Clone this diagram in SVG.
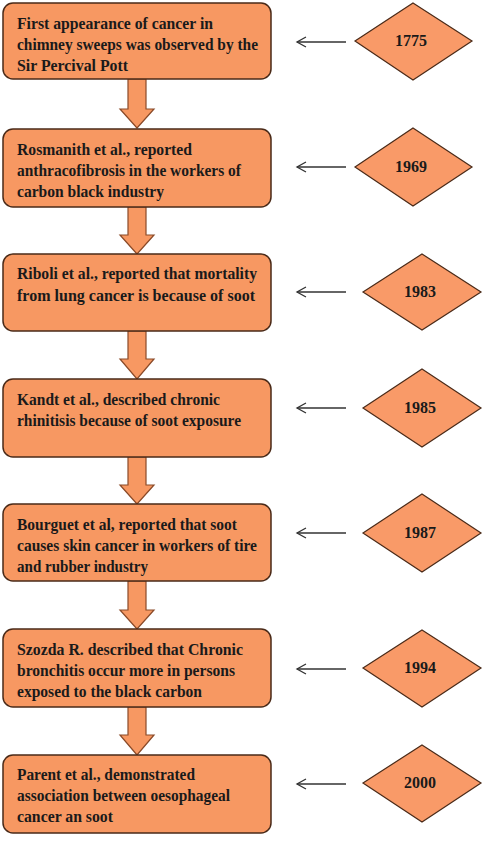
<svg xmlns="http://www.w3.org/2000/svg" width="491" height="844" viewBox="0 0 491 844">
<defs>
<style>
.box{fill:#F79862;stroke:#4a2a18;stroke-width:1.5}
.dia{fill:#F99A68;stroke:#4a2a18;stroke-width:1.2}
.blk{fill:#F79862;stroke:#8a4a28;stroke-width:1.2}
.ln{fill:none;stroke:#333;stroke-width:1.3}
.t{font-family:'Liberation Serif','DejaVu Serif',serif;font-weight:bold;font-size:16px;fill:#1a1a1a}
.y{font-family:'Liberation Serif','DejaVu Serif',serif;font-weight:bold;font-size:16px;fill:#1a1a1a;text-anchor:middle}
</style>
<marker id="open" markerWidth="12" markerHeight="12" refX="10" refY="6" orient="auto" markerUnits="userSpaceOnUse">
<path d="M1,1 L10,6 L1,11" fill="none" stroke="#333" stroke-width="1.3"/>
</marker>
</defs>
<g id="connectors">
<polygon class="blk" points="128,79 146,79 146,109 154,109 137,128 120,109 128,109"/>
<polygon class="blk" points="128,207 146,207 146,235 154,235 137,254 120,235 128,235"/>
<polygon class="blk" points="128,331 146,331 146,359 154,359 137,379 120,359 128,359"/>
<polygon class="blk" points="128,457 146,457 146,485 154,485 137,504 120,485 128,485"/>
<polygon class="blk" points="128,581 146,581 146,610 154,610 137,629 120,610 128,610"/>
<polygon class="blk" points="128,707 146,707 146,735 154,735 137,755 120,735 128,735"/>
<path class="ln" d="M346,42 L297,42" marker-end="url(#open)"/>
<path class="ln" d="M346,167 L297,167" marker-end="url(#open)"/>
<path class="ln" d="M346,292 L297,292" marker-end="url(#open)"/>
<path class="ln" d="M346,408 L297,408" marker-end="url(#open)"/>
<path class="ln" d="M346,533 L297,533" marker-end="url(#open)"/>
<path class="ln" d="M346,669 L297,669" marker-end="url(#open)"/>
<path class="ln" d="M346,784 L297,784" marker-end="url(#open)"/>
</g>
<g id="box1">
<rect class="box" x="3" y="3" width="268" height="76" rx="10"/>
<text class="t" x="17" y="29" textLength="196" lengthAdjust="spacingAndGlyphs">First appearance of cancer  in</text>
<text class="t" x="17" y="50" textLength="241" lengthAdjust="spacingAndGlyphs">chimney sweeps was observed by the</text>
<text class="t" x="17" y="71" textLength="111" lengthAdjust="spacingAndGlyphs">Sir Percival Pott</text>
</g>
<g id="box2">
<rect class="box" x="3" y="129" width="268" height="78" rx="10"/>
<text class="t" x="17" y="155" textLength="175" lengthAdjust="spacingAndGlyphs">Rosmanith et al., reported</text>
<text class="t" x="17" y="176" textLength="224" lengthAdjust="spacingAndGlyphs">anthracofibrosis in the workers of</text>
<text class="t" x="17" y="197" textLength="147" lengthAdjust="spacingAndGlyphs">carbon black industry</text>
</g>
<g id="box3">
<rect class="box" x="3" y="254" width="268" height="77" rx="10"/>
<text class="t" x="17" y="279" textLength="240" lengthAdjust="spacingAndGlyphs">Riboli et al.,  reported that mortality</text>
<text class="t" x="17" y="301" textLength="238" lengthAdjust="spacingAndGlyphs">from lung cancer  is because of  soot</text>
</g>
<g id="box4">
<rect class="box" x="3" y="379" width="268" height="78" rx="10"/>
<text class="t" x="17" y="405" textLength="203" lengthAdjust="spacingAndGlyphs">Kandt et al., described chronic</text>
<text class="t" x="17" y="426" textLength="224" lengthAdjust="spacingAndGlyphs">rhinitisis because of soot exposure</text>
</g>
<g id="box5">
<rect class="box" x="3" y="504" width="268" height="77" rx="10"/>
<text class="t" x="17" y="530" textLength="220" lengthAdjust="spacingAndGlyphs">Bourguet et al, reported that soot</text>
<text class="t" x="17" y="551" textLength="240" lengthAdjust="spacingAndGlyphs">causes skin cancer in workers of tire</text>
<text class="t" x="17" y="572" textLength="131" lengthAdjust="spacingAndGlyphs">and rubber industry</text>
</g>
<g id="box6">
<rect class="box" x="3" y="629" width="268" height="78" rx="10"/>
<text class="t" x="17" y="655" textLength="226" lengthAdjust="spacingAndGlyphs">Szozda R. described that  Chronic</text>
<text class="t" x="17" y="676" textLength="218" lengthAdjust="spacingAndGlyphs">bronchitis occur more in persons</text>
<text class="t" x="17" y="697" textLength="185" lengthAdjust="spacingAndGlyphs">exposed to the black carbon</text>
</g>
<g id="box7">
<rect class="box" x="3" y="755" width="268" height="78" rx="10"/>
<text class="t" x="17" y="780" textLength="178" lengthAdjust="spacingAndGlyphs">Parent et al., demonstrated</text>
<text class="t" x="17" y="801" textLength="213" lengthAdjust="spacingAndGlyphs">association between oesophageal</text>
<text class="t" x="17" y="822" textLength="96" lengthAdjust="spacingAndGlyphs">cancer an soot</text>
</g>
<g id="year1775">
<polygon class="dia" points="413,3 472,41 413,80 355,41"/>
<text class="y" x="411" y="46">1775</text>
</g>
<g id="year1969">
<polygon class="dia" points="413,128 472,167 413,206 355,167"/>
<text class="y" x="411" y="172">1969</text>
</g>
<g id="year1983">
<polygon class="dia" points="422,254 481,292 422,330 363,292"/>
<text class="y" x="420" y="297">1983</text>
</g>
<g id="year1985">
<polygon class="dia" points="422,369 481,408 422,447 363,408"/>
<text class="y" x="420" y="413">1985</text>
</g>
<g id="year1987">
<polygon class="dia" points="422,494 481,533 422,572 363,533"/>
<text class="y" x="420" y="538">1987</text>
</g>
<g id="year1994">
<polygon class="dia" points="422,630 481,668 422,707 363,668"/>
<text class="y" x="420" y="673">1994</text>
</g>
<g id="year2000">
<polygon class="dia" points="422,745 481,783 422,822 363,783"/>
<text class="y" x="420" y="788">2000</text>
</g>
</svg>
